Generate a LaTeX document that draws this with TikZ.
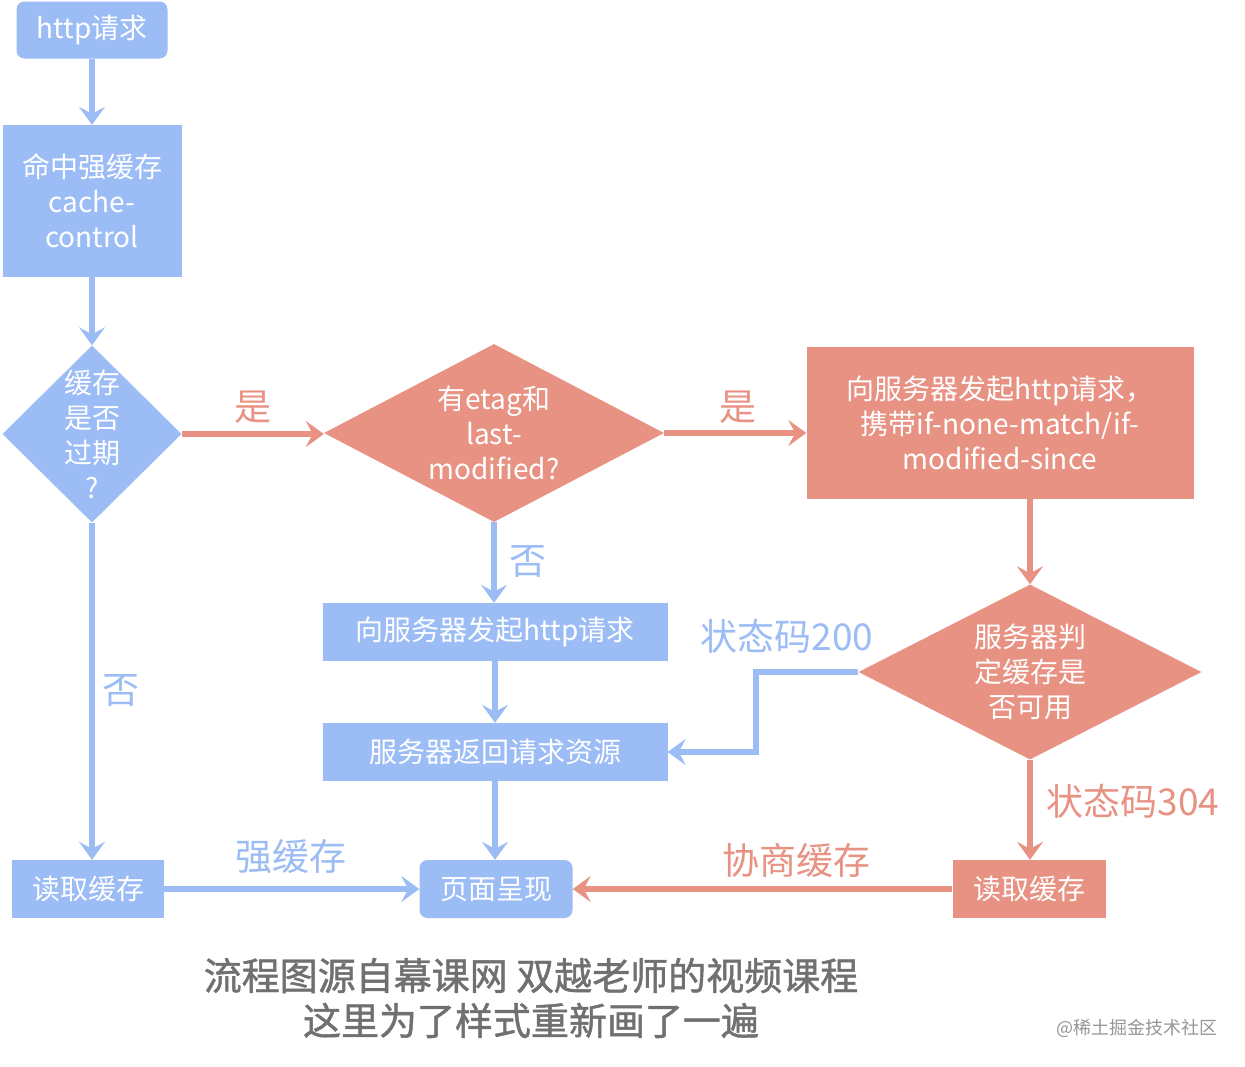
\documentclass[tikz,border=0pt]{standalone}
\usepackage{fontspec}
\setmainfont{Noto Sans CJK SC}
\newfontfamily\capfont{Noto Sans CJK SC}[FakeBold=1.2]
\usetikzlibrary{arrows.meta,shapes.geometric,calc}
\definecolor{cblue}{RGB}{155,188,245}
\definecolor{csalmon}{RGB}{232,146,131}
\definecolor{cgray}{RGB}{112,112,112}
\definecolor{cwm}{RGB}{150,150,150}
\begin{document}
\begin{tikzpicture}[x=1pt,y=-1pt,
  bbox/.style={fill=cblue,text=white,inner sep=0pt,align=center,font=\fontsize{28}{35}\selectfont},
  sbox/.style={fill=csalmon,text=white,inner sep=0pt,align=center,font=\fontsize{28}{35}\selectfont},
  bdiam/.style={diamond,fill=cblue,inner sep=0pt},
  sdiam/.style={diamond,fill=csalmon,inner sep=0pt},
  dtext/.style={text=white,align=center,inner sep=0pt,font=\fontsize{28}{35}\selectfont},
  blab/.style={text=cblue,inner sep=0pt,font=\fontsize{37}{40}\selectfont},
  slab/.style={text=csalmon,inner sep=0pt,font=\fontsize{37}{40}\selectfont},
  barrow/.style={draw=cblue,line width=6pt,-{Stealth[length=18pt,width=26pt,inset=7pt]}},
  sarrow/.style={draw=csalmon,line width=6pt,-{Stealth[length=18pt,width=26pt,inset=7pt]}}
]
\useasboundingbox (0,0) rectangle (1245,1066);
\fill[white] (0,0) rectangle (1245,1066);

% nodes
\node[bbox,rounded corners=8pt,minimum width=151pt,minimum height=57pt] (h) at (92,30) {http请求};
\node[bbox,minimum width=179pt,minimum height=152pt] (hit) at (92,201) {命中强缓存\\cache-\\control};
\node[bdiam,minimum width=179pt,minimum height=177pt] (d1) at (92,434) {};
\node[dtext] at (d1.center) {缓存\\是否\\过期\\?};
\node[sdiam,minimum width=340pt,minimum height=178pt] (d2) at (494,433) {};
\node[dtext] at (d2.center) {有etag和\\last-\\modified?};
\node[sbox,minimum width=387pt,minimum height=152pt] (rbox) at (1000,423) {向服务器发起http请求，\\携带if-none-match/if-\\modified-since};
\node[sdiam,minimum width=343pt,minimum height=175pt] (d3) at (1030,672) {};
\node[dtext] at (d3.center) {服务器判\\定缓存是\\否可用};
\node[bbox,minimum width=345pt,minimum height=58pt] (req) at (495,632) {向服务器发起http请求};
\node[bbox,minimum width=345pt,minimum height=58pt] (sret) at (495,752) {服务器返回请求资源};
\node[bbox,minimum width=152pt,minimum height=58pt] (lread) at (88,889) {读取缓存};
\node[bbox,rounded corners=8pt,minimum width=153pt,minimum height=58pt] (page) at (496,889) {页面呈现};
\node[sbox,minimum width=153pt,minimum height=58pt] (rread) at (1029,889) {读取缓存};

% connectors
\draw[barrow] (h) -- (hit);
\draw[barrow] (hit) -- (d1);
\draw[sarrow] (d1.east) -- (d1.east -| d2.west);
\draw[sarrow] (d2.east) -- (d2.east -| rbox.west);
\draw[sarrow] (d3.north |- rbox.south) -- (d3.north);
\draw[barrow] (d3.west) -- ++(-102,0) |- (sret.east);
\draw[sarrow] (d3.south) -- (d3.south |- rread.north);
\draw[sarrow] (rread.west) -- (page.east);
\draw[barrow] (lread.east) -- (page.west);
\draw[barrow] (d1.south) -- (d1.south |- lread.north);
\draw[barrow] (d2.south) -- (d2.south |- req.north);
\draw[barrow] (req) -- (sret);
\draw[barrow] (sret.south) -- (sret.south |- page.north);

% labels
\node[slab] (l1) at (253,407) {是};
\node[slab] (l2) at (738,407) {是};
\node[blab] (l3) at (528,561) {否};
\node[blab] (l4) at (121,690) {否};
\node[blab] (l5) at (787,636) {状态码200};
\node[slab] (l6) at (1133,801) {状态码304};
\node[blab] (l7) at (291,857) {强缓存};
\node[slab] (l8) at (796,860) {协商缓存};

% caption
\node[text=cgray,align=center,inner sep=0pt,font=\capfont\fontsize{38}{45}\selectfont] (cap) at (531,998) {流程图源自幕课网 双越老师的视频课程\\这里为了样式重新画了一遍};
\node[text=cwm,inner sep=0pt,font=\fontsize{18}{20}\selectfont] (wm) at (1137,1028) {@稀土掘金技术社区};
\end{tikzpicture}
\end{document}
